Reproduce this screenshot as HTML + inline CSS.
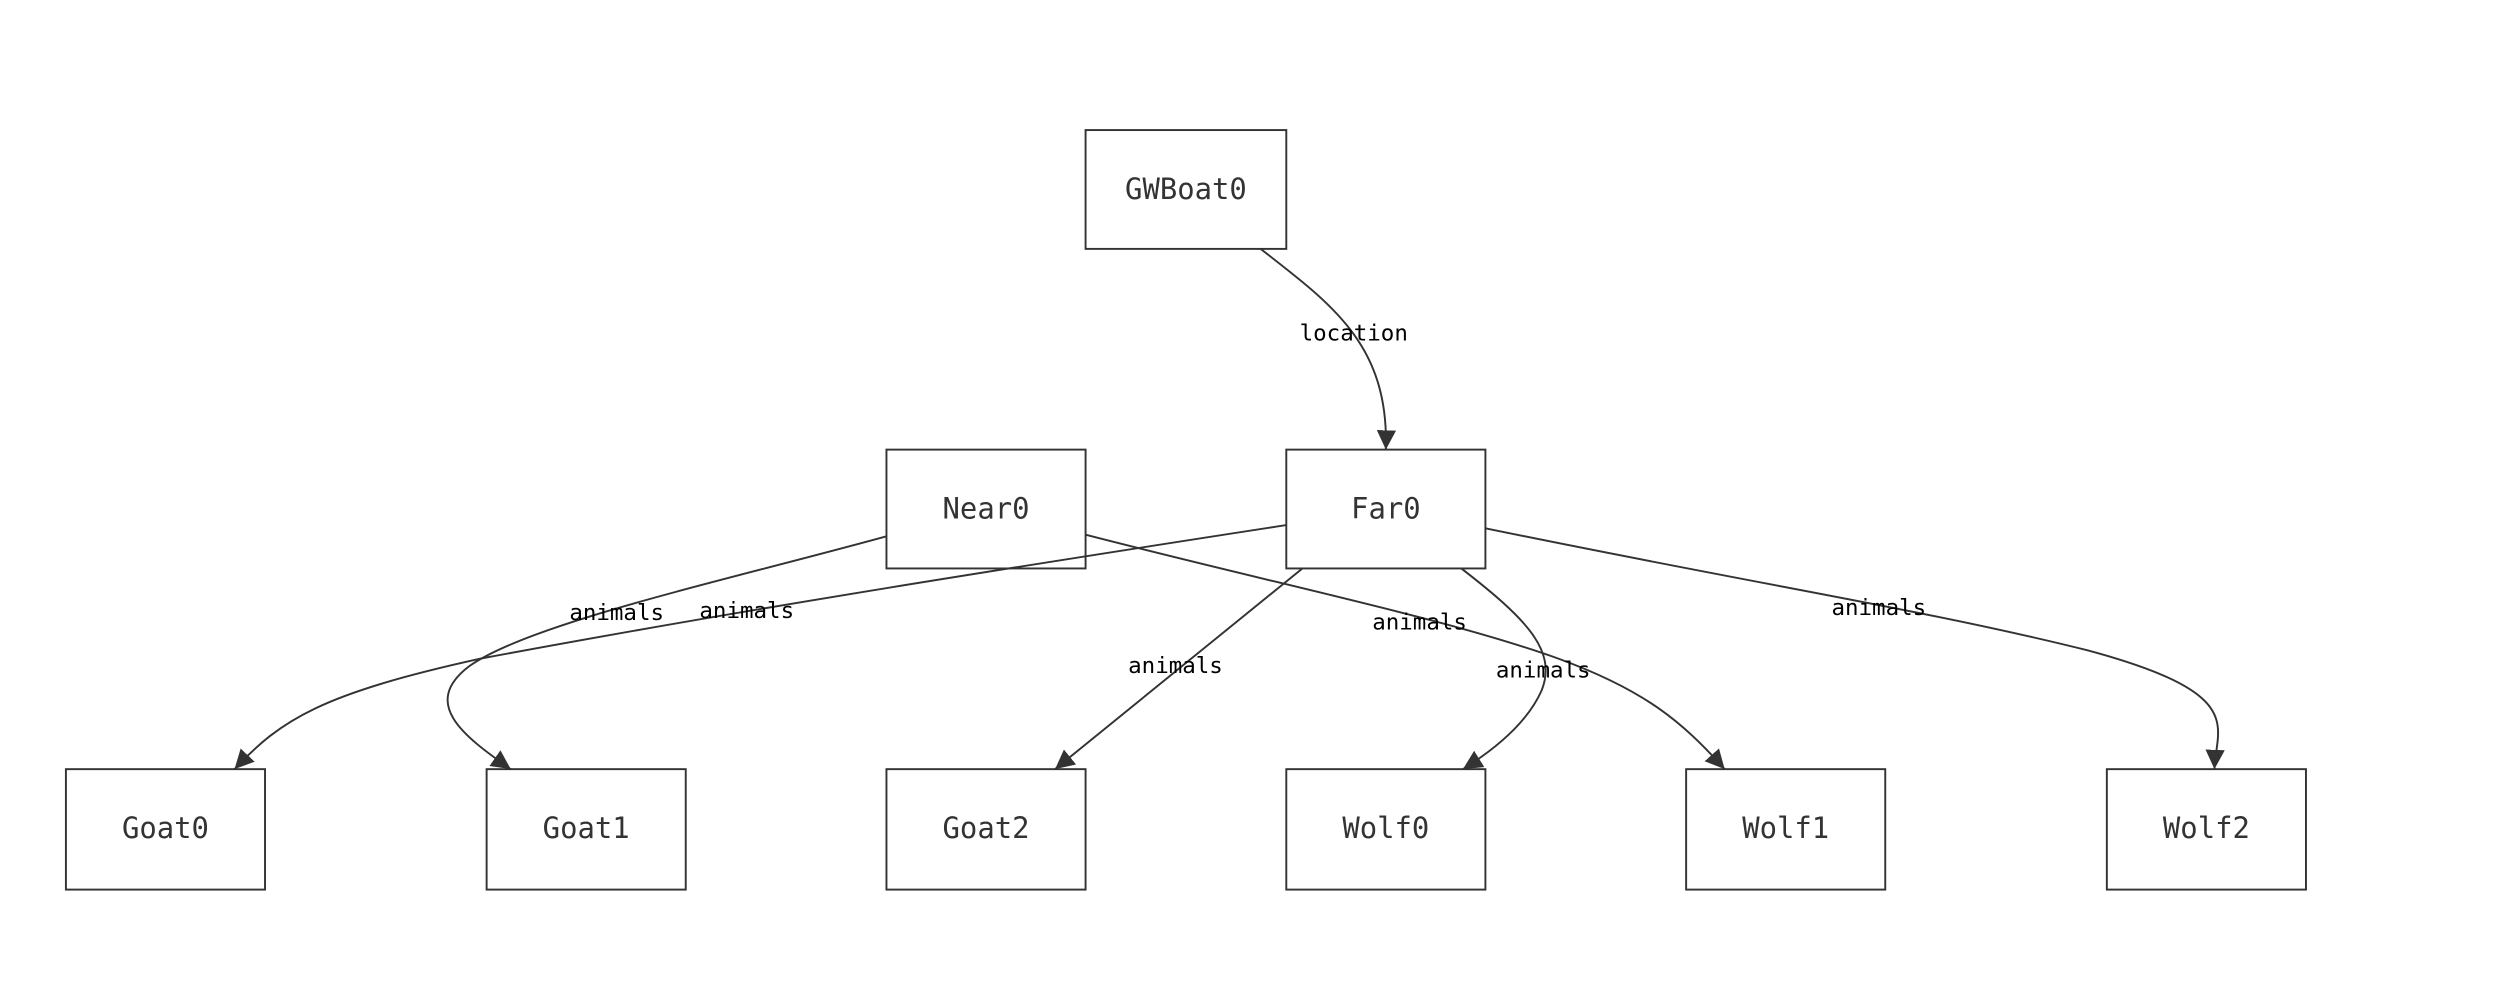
<!DOCTYPE html>
<html><head><meta charset="utf-8"><style>html,body{margin:0;padding:0;background:#fff;}svg{display:block}</style></head>
<body>
<svg width="2518" height="1002" viewBox="0 0 1568 624" xmlns="http://www.w3.org/2000/svg">
<defs>
<marker id="m" viewBox="0 0 12 12" refX="12" refY="6" markerWidth="12" markerHeight="12" markerUnits="userSpaceOnUse" orient="auto"><path d="M0,0 L12,6 L0,12 z" fill="#333"/></marker></defs>
<g fill="#fff" stroke="#333" stroke-width="1.2">
<rect x="676" y="81" width="125" height="74"/>
<rect x="552" y="280" width="124" height="74"/>
<rect x="801" y="280" width="124" height="74"/>
<rect x="41" y="479" width="124" height="75"/>
<rect x="303" y="479" width="124" height="75"/>
<rect x="552" y="479" width="124" height="75"/>
<rect x="801" y="479" width="124" height="75"/>
<rect x="1050" y="479" width="124" height="75"/>
<rect x="1312" y="479" width="124" height="75"/>
</g>
<g fill="none" stroke="#333" stroke-width="1.2">
<path d="M785,155 C830,190 865,215 863,280" marker-end="url(#m)"/>
<path d="M552,334 C450,362 330,388 292,415 C262,438 288,458 318,479" marker-end="url(#m)"/>
<path d="M801,327 C600,358 450,382 300,410 C200,432 175,448 146,479" marker-end="url(#m)"/>
<path d="M811,354 L657,479" marker-end="url(#m)"/>
<path d="M910,354 C950,385 970,405 960,430 C952,448 935,464 911,479" marker-end="url(#m)"/>
<path d="M676,333 C800,365 900,385 970,410 C1025,430 1048,450 1074,479" marker-end="url(#m)"/>
<path d="M925,329 C1100,365 1200,380 1300,405 C1400,432 1380,452 1379,479" marker-end="url(#m)"/>
</g>
<g font-family="'DejaVu Sans Mono','Liberation Mono',monospace" font-size="18" fill="#333" text-anchor="middle">
<text x="738.5" y="124">GWBoat0</text>
<text x="614" y="323">Near0</text>
<text x="863" y="323">Far0</text>
<text x="103" y="522">Goat0</text>
<text x="365" y="522">Goat1</text>
<text x="614" y="522">Goat2</text>
<text x="863" y="522">Wolf0</text>
<text x="1112" y="522">Wolf1</text>
<text x="1374" y="522">Wolf2</text>
</g>
<g font-family="'DejaVu Sans Mono','Liberation Mono',monospace" font-size="14" fill="#000" text-anchor="middle">
<text x="843" y="212">location</text>
<text x="384" y="386">animals</text>
<text x="465" y="385">animals</text>
<text x="732" y="419">animals</text>
<text x="884" y="392">animals</text>
<text x="961" y="422">animals</text>
<text x="1170" y="383">animals</text>
</g>
</svg>
</body></html>
